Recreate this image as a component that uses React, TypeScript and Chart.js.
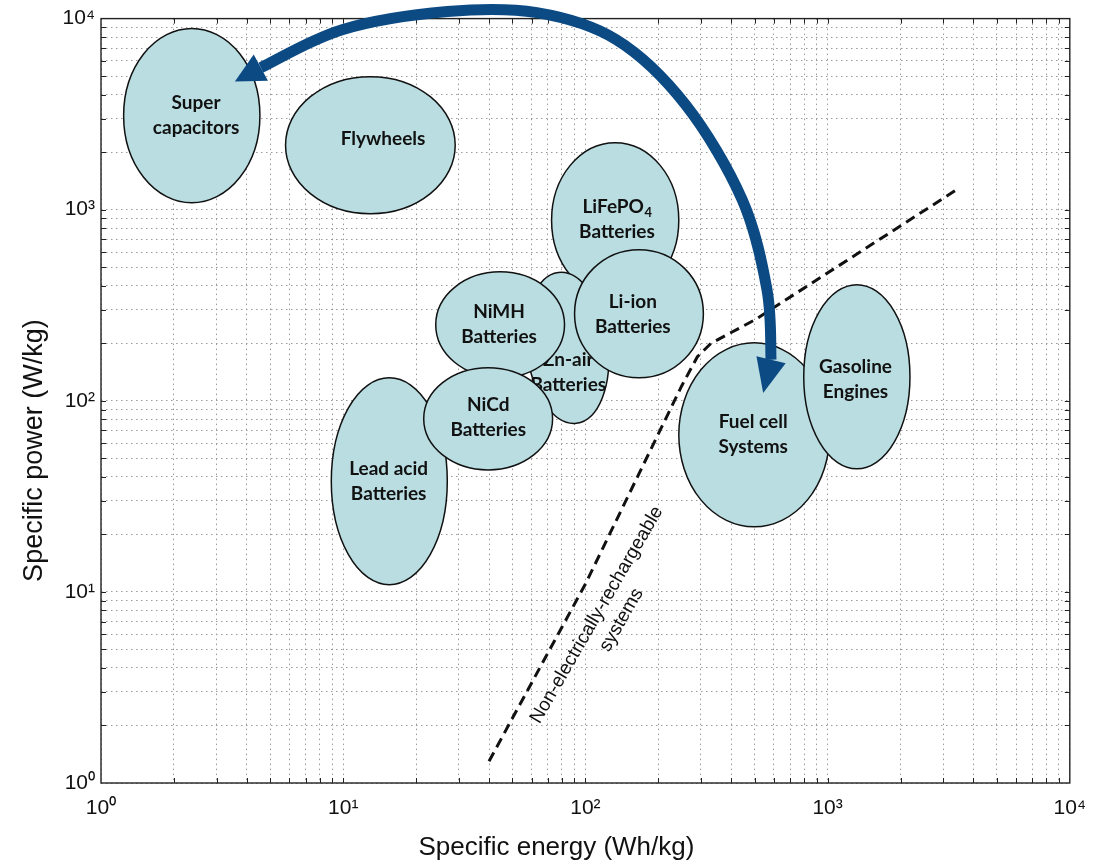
import React, { useEffect, useRef } from 'react';
import { Chart, registerables } from 'chart.js';

Chart.register(...registerables);

// ---------- data ----------
const technologies = [
  'Super capacitors', 'Flywheels', 'LiFePO4 Batteries', 'Zn-air Batteries', 'Lead acid Batteries',
  'NiMH Batteries', 'NiCd Batteries', 'Li-ion Batteries', 'Fuel cell Systems', 'Gasoline Engines',
];
const labelLines = [
  ['Super', 'capacitors'], ['Flywheels'], ['LiFePO₄', 'Batteries'], ['Zn-air', 'Batteries'],
  ['Lead acid', 'Batteries'], ['NiMH', 'Batteries'], ['NiCd', 'Batteries'], ['Li-ion', 'Batteries'],
  ['Fuel cell', 'Systems'], ['Gasoline', 'Engines'],
];
// specific energy range (Wh/kg)
const energyMin = [1.24, 5.78, 72.5, 57.3, 8.93, 24.1, 21.5, 90.2, 243, 797];
const energyMax = [4.53, 29.0, 243, 124, 26.9, 82, 73.2, 307, 1019, 2188];
// specific power range (W/kg)
const powerMin = [1088, 953, 346, 75.8, 10.9, 132, 43.5, 132, 21.9, 44.1];
const powerMax = [8870, 4970, 2243, 473, 132, 473, 149, 618, 201, 405];
const tilt = [0, 0, 0, -0.12, 0, 0, 0, 0, 0, 0];
// label anchor points
const labelEnergy = [2.47, 14.6, 135, 85, 15.4, 44, 39.7, 157, 493, 1303];
const labelPower = [3105, 2354, 887, 140, 38.1, 250, 81.5, 285, 66.4, 130];

// non-electrically-rechargeable boundary (dashed)
const boundaryEnergy = [40, 100, 250, 290, 330, 500, 3500];
const boundaryPower = [1.3, 11, 120, 170, 200, 265, 1300];
const boundaryText = ['Non-electrically-rechargeable', 'systems'];
const boundaryTextEnergy = 123;
const boundaryTextPower = 7.05;

// double-headed arrow (first and last points are the arrow tips)
const arrowEnergy = [3.57, 4.57, 9.9, 26.9, 63, 134, 259, 444, 562, 584, 542];
const arrowPower = [4680, 5540, 8750, 10890, 10740, 7760, 3546, 1128, 381, 164, 110];

// axes
const decadeValues = [1, 10, 100, 1000, 10000];
const decadeLabels = ['10⁰', '10¹', '10²', '10³', '10⁴'];
const minorMultipliers = [1, 2, 3, 4, 5, 6, 7, 8, 9];
const energyTicks: number[] = [];
const powerTicks: number[] = [];
decadeValues.slice(0, 4).forEach((d) => minorMultipliers.forEach((m) => { energyTicks.push(d * m); powerTicks.push(d * m); }));
energyTicks.push(10000);
powerTicks.push(10000);

const xTitle = 'Specific energy (Wh/kg)';
const yTitle = 'Specific power (W/kg)';

// ---------- styles ----------
const FAMILY = '"Liberation Sans", Arial, sans-serif';
const LABEL_FONT = 'bold 19px Lato, "Open Sans", sans-serif';
const SUB_FONT = 'bold 13px Lato, "Open Sans", sans-serif';
const FILL = '#b9dde1';
const ARROW = '#0c4a84';

function decadeLabel(v: number) {
  const i = decadeValues.findIndex((d) => Math.abs(d - v) < 1e-9 * d);
  return i >= 0 ? decadeLabels[i] : '';
}

function drawLabelLine(ctx: CanvasRenderingContext2D, text: string, x: number, y: number) {
  const idx = text.indexOf('₄');
  if (idx < 0) {
    ctx.textAlign = 'center';
    ctx.fillText(text, x, y);
    return;
  }
  const main = text.slice(0, idx);
  ctx.font = LABEL_FONT;
  const w1 = ctx.measureText(main).width;
  ctx.font = SUB_FONT;
  const w2 = ctx.measureText('4').width;
  const start = x - (w1 + w2) / 2;
  ctx.textAlign = 'left';
  ctx.font = LABEL_FONT;
  ctx.fillText(main, start, y);
  ctx.font = SUB_FONT;
  ctx.fillText('4', start + w1 + 0.5, y + 6);
  ctx.font = LABEL_FONT;
  ctx.textAlign = 'center';
}

const ragonePlugin = {
  id: 'ragone',
  beforeDatasetsDraw(chart: any) {
    const { ctx } = chart;
    const xs = chart.scales.x;
    const ys = chart.scales.y;
    technologies.forEach((_, i) => {
      const x1 = xs.getPixelForValue(energyMin[i]);
      const x2 = xs.getPixelForValue(energyMax[i]);
      const y1 = ys.getPixelForValue(powerMax[i]);
      const y2 = ys.getPixelForValue(powerMin[i]);
      ctx.save();
      ctx.beginPath();
      ctx.ellipse((x1 + x2) / 2, (y1 + y2) / 2, (x2 - x1) / 2, (y2 - y1) / 2, tilt[i], 0, Math.PI * 2);
      ctx.fillStyle = FILL;
      ctx.fill();
      ctx.lineWidth = 1.5;
      ctx.strokeStyle = '#111';
      ctx.stroke();
      // label
      const lx = xs.getPixelForValue(labelEnergy[i]);
      const ly = ys.getPixelForValue(labelPower[i]);
      const lines = labelLines[i];
      const lh = 25;
      ctx.fillStyle = '#111';
      ctx.font = LABEL_FONT;
      ctx.textBaseline = 'middle';
      ctx.textAlign = 'center';
      lines.forEach((t, k) => {
        drawLabelLine(ctx, t, lx, ly + (k - (lines.length - 1) / 2) * lh);
      });
      ctx.restore();
    });
  },
  afterDatasetsDraw(chart: any) {
    const { ctx, chartArea } = chart;
    const xs = chart.scales.x;
    const ys = chart.scales.y;
    const { left, right, top, bottom } = chartArea;

    // frame and inward tick marks
    ctx.save();
    ctx.strokeStyle = '#222';
    ctx.lineWidth = 1.4;
    ctx.strokeRect(left, top, right - left, bottom - top);
    ctx.lineWidth = 1;
    ctx.beginPath();
    energyTicks.forEach((v) => {
      const x = Math.round(xs.getPixelForValue(v)) + 0.5;
      if (x <= left + 1 || x >= right - 1) return;
      ctx.moveTo(x, bottom); ctx.lineTo(x, bottom - 5);
      ctx.moveTo(x, top); ctx.lineTo(x, top + 5);
    });
    powerTicks.forEach((v) => {
      const y = Math.round(ys.getPixelForValue(v)) + 0.5;
      if (y <= top + 1 || y >= bottom - 1) return;
      ctx.moveTo(left, y); ctx.lineTo(left + 5, y);
      ctx.moveTo(right, y); ctx.lineTo(right - 5, y);
    });
    ctx.stroke();
    ctx.restore();

    // rotated boundary text
    ctx.save();
    ctx.translate(xs.getPixelForValue(boundaryTextEnergy), ys.getPixelForValue(boundaryTextPower));
    ctx.rotate((-60 * Math.PI) / 180);
    ctx.fillStyle = '#111';
    ctx.font = `19px ${FAMILY}`;
    ctx.textAlign = 'center';
    ctx.textBaseline = 'middle';
    boundaryText.forEach((t, k) => ctx.fillText(t, k === 1 ? 8 : 0, (k - 0.5) * 24));
    ctx.restore();

    // double-headed arrow
    const pts = arrowEnergy.map((e, i) => ({ x: xs.getPixelForValue(e), y: ys.getPixelForValue(arrowPower[i]) }));
    const shaft = pts.slice(1, pts.length - 1);
    ctx.save();
    ctx.strokeStyle = ARROW;
    ctx.fillStyle = ARROW;
    ctx.lineWidth = 11;
    ctx.lineCap = 'butt';
    ctx.lineJoin = 'round';
    ctx.beginPath();
    ctx.moveTo(shaft[0].x, shaft[0].y);
    for (let i = 0; i < shaft.length - 1; i++) {
      const p0 = shaft[i - 1] || shaft[i];
      const p1 = shaft[i];
      const p2 = shaft[i + 1];
      const p3 = shaft[i + 2] || p2;
      ctx.bezierCurveTo(
        p1.x + (p2.x - p0.x) / 6, p1.y + (p2.y - p0.y) / 6,
        p2.x - (p3.x - p1.x) / 6, p2.y - (p3.y - p1.y) / 6,
        p2.x, p2.y,
      );
    }
    ctx.stroke();
    const head = (tip: any, base: any) => {
      const dx = tip.x - base.x;
      const dy = tip.y - base.y;
      const L = Math.hypot(dx, dy);
      const ux = dx / L;
      const uy = dy / L;
      const bx = tip.x - ux * L;
      const by = tip.y - uy * L;
      const hw = 15;
      ctx.beginPath();
      ctx.moveTo(tip.x, tip.y);
      ctx.lineTo(bx - uy * hw, by + ux * hw);
      ctx.lineTo(bx + uy * hw, by - ux * hw);
      ctx.closePath();
      ctx.fill();
    };
    head(pts[0], pts[1]);
    head(pts[pts.length - 1], pts[pts.length - 2]);
    ctx.restore();

    // axis titles
    ctx.save();
    ctx.fillStyle = '#111';
    ctx.font = `26px ${FAMILY}`;
    ctx.textAlign = 'center';
    ctx.textBaseline = 'middle';
    ctx.fillText(xTitle, (left + right) / 2 - 29, bottom + 65);
    ctx.translate(left - 66, top + 432);
    ctx.rotate(-Math.PI / 2);
    ctx.font = `27px ${FAMILY}`;
    ctx.fillText(yTitle, 0, 0);
    ctx.restore();
  },
};

export default function App() {
  const ref = useRef<HTMLCanvasElement>(null);
  useEffect(() => {
    if (!ref.current) return;
    const commonTicks = {
      autoSkip: false,
      maxRotation: 0,
      color: '#111',
      font: { family: FAMILY, size: 21 },
      callback: (v: any) => decadeLabel(Number(v)),
    };
    const chart = new Chart(ref.current, {
      type: 'scatter',
      data: {
        datasets: [
          {
            label: 'Non-electrically-rechargeable systems',
            data: boundaryEnergy.map((e, i) => ({ x: e, y: boundaryPower[i] })),
            showLine: true,
            borderColor: '#111',
            borderWidth: 3,
            borderDash: [10, 6],
            pointRadius: 0,
            tension: 0,
            fill: false,
          },
        ],
      },
      options: {
        responsive: false,
        animation: false,
        devicePixelRatio: 1,
        layout: { padding: { top: 18, right: 23, left: 0, bottom: 0 } },
        plugins: { legend: { display: false }, tooltip: { enabled: false }, title: { display: false } },
        scales: {
          x: {
            type: 'logarithmic',
            min: 1,
            max: 10000,
            position: 'bottom',
            afterBuildTicks: (s: any) => { s.ticks = energyTicks.map((v) => ({ value: v })); },
            afterFit: (s: any) => { s.height = 79; },
            ticks: { ...commonTicks, padding: 13 },
            grid: { color: '#9a9a9a', lineWidth: 1, drawTicks: false },
            border: { display: false, dash: [1.5, 3.5] },
          },
          y: {
            type: 'logarithmic',
            min: 1,
            max: 10000,
            position: 'left',
            afterBuildTicks: (s: any) => { s.ticks = powerTicks.map((v) => ({ value: v })); },
            afterFit: (s: any) => { s.width = 101; },
            ticks: { ...commonTicks, padding: 6 },
            grid: { color: '#9a9a9a', lineWidth: 1, drawTicks: false },
            border: { display: false, dash: [1.5, 3.5] },
          },
        },
      },
      plugins: [ragonePlugin],
    } as any);
    return () => chart.destroy();
  }, []);
  return (
    <div style={{ position: 'absolute', left: 0, top: 0, width: 1099, height: 862, background: '#fff' }}>
      <canvas ref={ref} width={1099} height={862} style={{ display: 'block', width: 1099, height: 862 }} />
    </div>
  );
}
